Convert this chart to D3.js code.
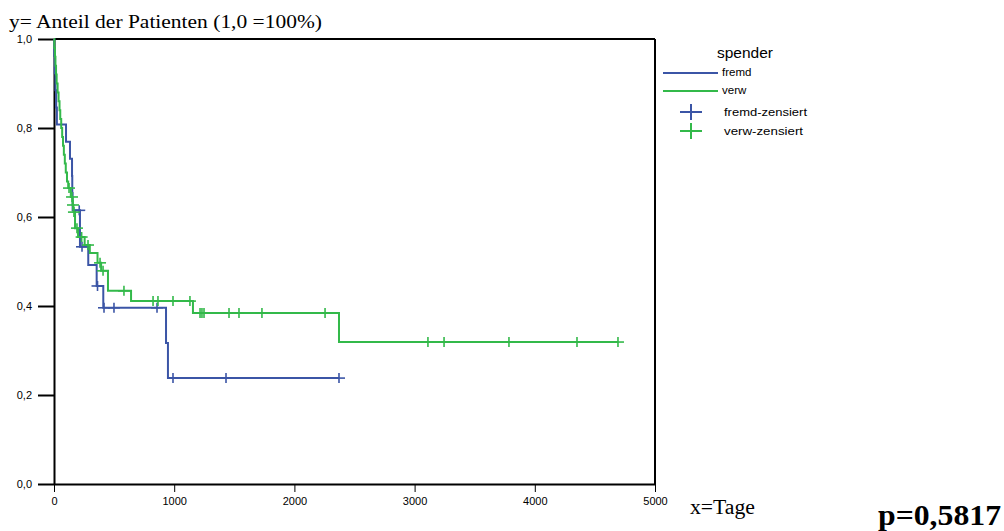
<!DOCTYPE html>
<html>
<head>
<meta charset="utf-8">
<script src="https://cdn.jsdelivr.net/npm/d3@7"></script>
<style>
  html, body { margin: 0; padding: 0; background: #fff; }
  svg { display: block; }
</style>
</head>
<body>
<svg id="chart" width="1004" height="531"></svg>
<script>
// Kaplan-Meier estimates per donor group (Tage, Anteil)
const fremdTimes = [2, 6, 12, 18, 24, 100, 133, 150, 152, 155, 216, 285, 355, 410, 932, 948];
const fremdSurv  = [0.962, 0.923, 0.885, 0.846, 0.808, 0.769, 0.731, 0.692, 0.654, 0.615, 0.533, 0.492, 0.445, 0.396, 0.317, 0.238];
const fremdCensored = [210, 233, 362, 416, 499, 857, 990, 1431, 2371];

const verwTimes = [3, 8, 12, 17, 22, 30, 38, 46, 52, 60, 68, 75, 82, 90, 98, 108, 118, 140, 155, 162, 175, 200, 255, 298, 362, 392, 449, 641, 1156, 2371];
const verwSurv  = [0.98, 0.96, 0.94, 0.92, 0.90, 0.88, 0.86, 0.84, 0.82, 0.80, 0.78, 0.76, 0.74, 0.72, 0.70, 0.68, 0.665, 0.645, 0.627, 0.611, 0.575, 0.555, 0.537, 0.519, 0.497, 0.479, 0.434, 0.411, 0.384, 0.319];
const verwCensored = [125, 150, 158, 166, 191, 230, 283, 383, 408, 582, 824, 865, 990, 1131, 1215, 1231, 1248, 1456, 1539, 1730, 2255, 3111, 3245, 3785, 4351, 4692];

const xTicks = [0, 1000, 2000, 3000, 4000, 5000];
const yTicks = [0, 0.2, 0.4, 0.6, 0.8, 1.0];

const groups = [
  { name: "fremd", times: fremdTimes, surv: fremdSurv, cens: fremdCensored, color: "#3b55a6" },
  { name: "verw",  times: verwTimes,  surv: verwSurv,  cens: verwCensored,  color: "#33b94a" }
];

const svg = d3.select("#chart");
svg.append("rect").attr("width", 1004).attr("height", 531).attr("fill", "#fff");

const x = d3.scaleLinear().domain([0, 5000]).range([54, 655]);
const y = d3.scaleLinear().domain([0, 1]).range([484, 39]);

// survival value at time t (step function, right-continuous)
function survAt(g, t) {
  let s = 1;
  for (let i = 0; i < g.times.length; i++) if (g.times[i] <= t) s = g.surv[i];
  return s;
}

// frame: top and right border
svg.append("line").attr("x1", x(0)).attr("x2", x(5000)).attr("y1", y(1)).attr("y2", y(1))
  .attr("stroke", "#000").attr("stroke-width", 2);
svg.append("line").attr("x1", x(5000)).attr("x2", x(5000)).attr("y1", y(1)).attr("y2", y(0))
  .attr("stroke", "#000").attr("stroke-width", 2);

// y axis
const yAxis = svg.append("g").attr("transform", `translate(${x(0)},0)`)
  .call(d3.axisLeft(y).tickValues(yTicks).tickSize(16).tickSizeOuter(0)
    .tickFormat(d => d.toFixed(1).replace(".", ",")));
yAxis.select(".domain").attr("stroke", "#000").attr("stroke-width", 2);
yAxis.selectAll(".tick line").attr("stroke", "#000").attr("stroke-width", 2);
yAxis.selectAll(".tick text").attr("x", -22).attr("dy", "0.36em")
  .attr("font-family", "Arial, 'Liberation Sans', sans-serif").attr("font-size", 11).attr("fill", "#000");

// x axis
const xAxis = svg.append("g").attr("transform", `translate(0,${y(0)})`)
  .call(d3.axisBottom(x).tickValues(xTicks).tickSize(8).tickSizeOuter(0).tickFormat(d3.format("d")));
xAxis.select(".domain").attr("stroke", "#000").attr("stroke-width", 2);
xAxis.selectAll(".tick line").attr("stroke", "#000").attr("stroke-width", 1);
xAxis.selectAll(".tick text").attr("y", 21).attr("dy", "0")
  .attr("font-family", "Arial, 'Liberation Sans', sans-serif").attr("font-size", 11).attr("fill", "#000");

// curves
const stepLine = d3.line().x(d => x(d[0])).y(d => y(d[1])).curve(d3.curveStepAfter);
const plot = svg.append("g");
groups.forEach(g => {
  const last = d3.max(g.cens.concat(g.times));
  const pts = [[0, 1]].concat(g.times.map((t, i) => [t, g.surv[i]]));
  pts.push([last, survAt(g, last)]);
  plot.append("path").attr("d", stepLine(pts)).attr("fill", "none")
    .attr("stroke", g.color).attr("stroke-width", 2);
});
groups.forEach(g => {
  const marks = plot.append("g").attr("stroke", g.color).attr("stroke-width", 1.6);
  g.cens.forEach(t => {
    const cx = x(t), cy = y(survAt(g, t));
    marks.append("line").attr("x1", cx - 6).attr("x2", cx + 6).attr("y1", cy).attr("y2", cy);
    marks.append("line").attr("x1", cx).attr("x2", cx).attr("y1", cy - 5).attr("y2", cy + 5);
  });
});

// titles
svg.append("text").attr("x", 9).attr("y", 28)
  .attr("font-family", "'Times New Roman', 'Liberation Serif', serif").attr("font-size", 19)
  .attr("textLength", 313).attr("lengthAdjust", "spacingAndGlyphs")
  .text("y= Anteil der Patienten (1,0 =100%)");
svg.append("text").attr("x", 690).attr("y", 514)
  .attr("font-family", "'Times New Roman', 'Liberation Serif', serif").attr("font-size", 20)
  .attr("textLength", 65).attr("lengthAdjust", "spacingAndGlyphs")
  .text("x=Tage");
svg.append("text").attr("x", 878).attr("y", 525)
  .attr("font-family", "'Times New Roman', 'Liberation Serif', serif").attr("font-size", 29)
  .attr("font-weight", "bold")
  .attr("textLength", 123).attr("lengthAdjust", "spacingAndGlyphs")
  .text("p=0,5817");

// legend
const lg = svg.append("g").attr("font-family", "Arial, 'Liberation Sans', sans-serif").attr("fill", "#000");
lg.append("text").attr("x", 717).attr("y", 58).attr("font-size", 15.5).text("spender");
groups.forEach((g, i) => {
  const ly = 73 + i * 18;
  lg.append("line").attr("x1", 663).attr("x2", 718).attr("y1", ly).attr("y2", ly)
    .attr("stroke", g.color).attr("stroke-width", 2);
  lg.append("text").attr("x", 722).attr("y", ly + 3).attr("font-size", 11.5).text(g.name);
  const cy = 112 + i * 19;
  lg.append("line").attr("x1", 680).attr("x2", 702).attr("y1", cy).attr("y2", cy)
    .attr("stroke", g.color).attr("stroke-width", 2);
  lg.append("line").attr("x1", 691).attr("x2", 691).attr("y1", cy - 8).attr("y2", cy + 8)
    .attr("stroke", g.color).attr("stroke-width", 2);
  lg.append("text").attr("x", 724).attr("y", cy + 4).attr("font-size", 11)
    .attr("textLength", i === 0 ? 83 : 79).attr("lengthAdjust", "spacingAndGlyphs")
    .text(g.name + "-zensiert");
});
</script>
</body>
</html>
